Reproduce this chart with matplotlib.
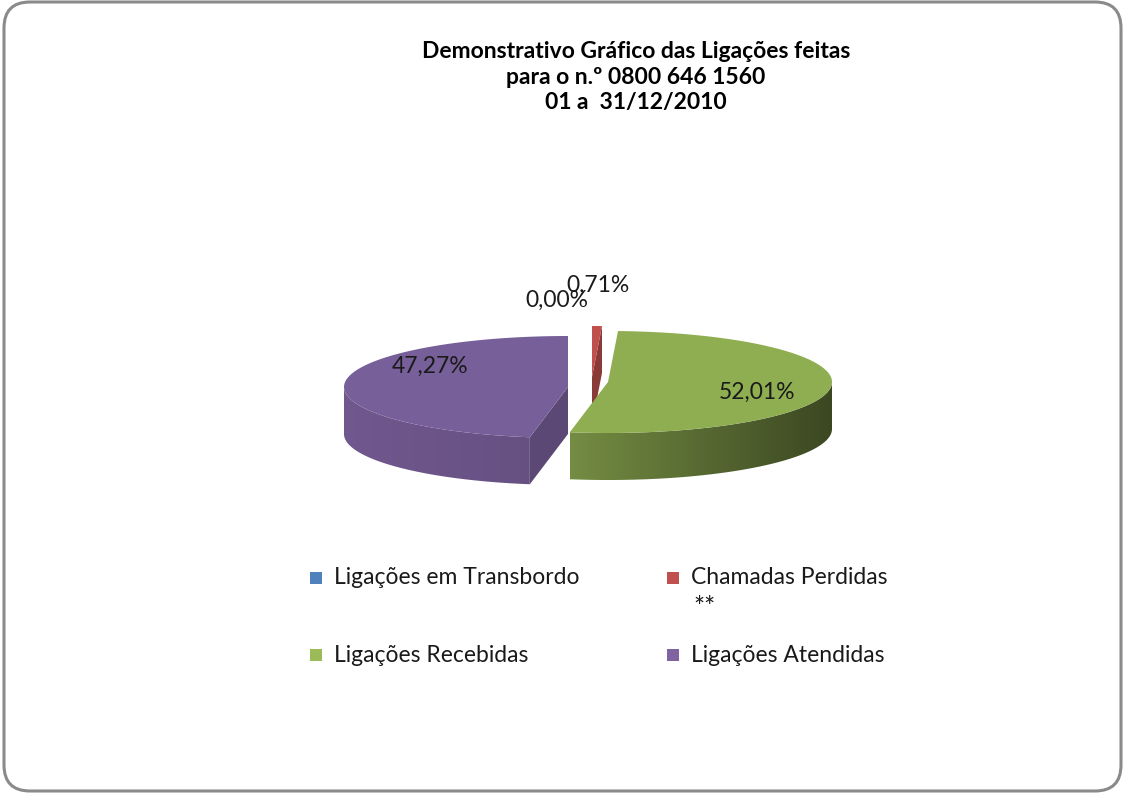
import numpy as np
import matplotlib
matplotlib.use("Agg")
import matplotlib.pyplot as plt
from matplotlib.patches import Polygon, FancyBboxPatch
from matplotlib.colors import to_rgb

plt.rcParams['font.family'] = ['Lato', 'DejaVu Sans']

# data
labels = ["Ligações em Transbordo", "Chamadas Perdidas\n**",
          "Ligações Recebidas", "Ligações Atendidas"]
values = [0.00, 0.71, 52.01, 47.27]
pct_text = ["0,00%", "0,71%", "52,01%", "47,27%"]
colors = ["#4F81BD", "#C0504D", "#9BBB59", "#8064A2"]
top_colors = ["#4F81BD", "#C0504D", "#8FAE52", "#775F99"]
title = "Demonstrativo Gráfico das Ligações feitas\npara o n.º 0800 646 1560\n01 a  31/12/2010"

W, H = 1125, 795
fig = plt.figure(figsize=(W / 100, H / 100), dpi=100)
ax = fig.add_axes([0, 0, 1, 1])
ax.set_xlim(0, W)
ax.set_ylim(H, 0)
ax.axis("off")

# frame
frame = FancyBboxPatch((4, 2), W - 8, H - 6, boxstyle="round,pad=0,rounding_size=26",
                       fc="white", ec="#8a8a8a", lw=2.2)
ax.add_patch(frame)

ax.text(636, 77, title, ha="center", va="center", fontsize=16.5,
        fontweight="bold", linespacing=1.24)

# pseudo 3D pie
cx, cy = 588, 385
rx, ry, depth = 224, 51, 47
explode = [(4, -8), (4, -8), (20, -3), (-20, 2)]


def pt(x0, y0, th):
    t = np.radians(th)
    return x0 + rx * np.sin(t), y0 - ry * np.cos(t)


def shade(c, f):
    r, g, b = to_rgb(c)
    return (r * f, g * f, b * f)


def grad_fill(poly, c1, c2, x0, x1, z):
    ax.add_patch(poly)
    poly.set_visible(False)
    img = np.linspace(0, 1, 256)[None, :, None]
    a, b = np.array(c1), np.array(c2)
    rgb = a + (b - a) * img
    im = ax.imshow(rgb, extent=(x0, x1, H, 0), aspect="auto", zorder=z,
                   interpolation="bilinear")
    im.set_clip_path(poly)


total = sum(values)
start = 0.0
slices = []
for i, v in enumerate(values):
    span = v / total * 360
    slices.append((i, start, start + span))
    start += span

order = [1, 3, 2]  # back to front
z = 2
for i in order:
    _, t1, t2 = slices[i]
    ox, oy = cx + explode[i][0], cy + explode[i][1]
    base = colors[i]
    # cut faces
    for th, vis in ((t1, np.sin(np.radians(t1)) < -1e-6),
                    (t2, np.sin(np.radians(t2)) > 1e-6)):
        if vis:
            ex, ey = pt(ox, oy, th)
            quad = [(ox, oy), (ex, ey), (ex, ey + depth), (ox, oy + depth)]
            ax.add_patch(Polygon(quad, closed=True, fc=shade(base, 0.72),
                                 ec="none", zorder=z))
            z += 1
    # outer side
    a1, a2 = max(t1, 90), min(t2, 270)
    if a2 > a1:
        th = np.linspace(a1, a2, 120)
        xs, ys = pt(ox, oy, th)
        verts = list(zip(xs, ys)) + list(zip(xs[::-1], ys[::-1] + depth))
        poly = Polygon(verts, closed=True, ec="none")
        if i == 2:
            grad_fill(poly, shade(base, 0.75), shade(base, 0.38), xs.min(), xs.max(), z)
        else:
            grad_fill(poly, shade(base, 0.88), shade(base, 0.80), xs.min(), xs.max(), z)
        z += 1
    # top face
    th = np.linspace(t1, t2, 200)
    xs, ys = pt(ox, oy, th)
    verts = [(ox, oy)] + list(zip(xs, ys))
    ax.add_patch(Polygon(verts, closed=True, fc=top_colors[i], ec="none", zorder=z))
    z += 1

# data labels
label_pos = [(557, 300), (598, 285), (757, 392), (430, 366)]
for (x, y), s in zip(label_pos, pct_text):
    ax.text(x, y, s, ha="center", va="center", fontsize=16.5, color="#1a1a1a", zorder=50)

# legend
leg_pos = [(316, 578), (673, 578), (316, 655), (673, 655)]
for (x, y), lab, c in zip(leg_pos, labels, colors):
    ax.add_patch(plt.Rectangle((x - 6, y - 6), 12, 12, fc=c, ec="none", zorder=50))
    if "\n" in lab:
        first, second = lab.split("\n")
        ax.text(x + 18, y, first, ha="left", va="center", fontsize=16.5,
                color="#1a1a1a", zorder=50)
        ax.text(x + 20, y + 31, second, ha="left", va="center", fontsize=19,
                color="#1a1a1a", zorder=50)
    else:
        ax.text(x + 18, y, lab, ha="left", va="center", fontsize=16.5,
                color="#1a1a1a", zorder=50)

fig.savefig("out.png", dpi=100)
